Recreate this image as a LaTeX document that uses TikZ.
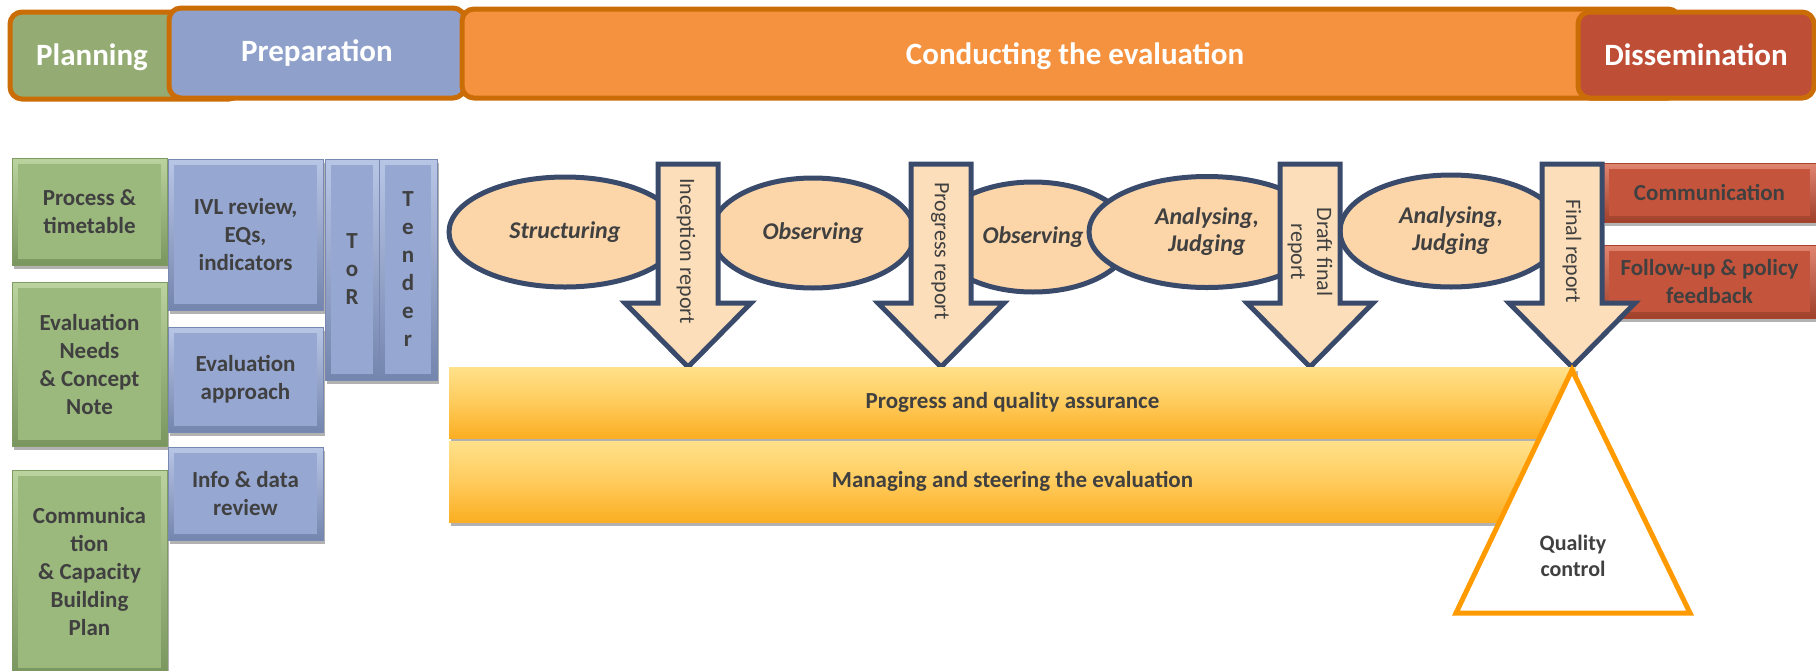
\documentclass[tikz,border=0pt]{standalone}
\usepackage{fontspec}
\setmainfont{Carlito}
\usetikzlibrary{shapes.geometric,shadows}
\definecolor{topgreen}{HTML}{94AC73}
\definecolor{topblue}{HTML}{8FA1CB}
\definecolor{toporange}{HTML}{F59240}
\definecolor{topred}{HTML}{BF4E36}
\definecolor{topborder}{HTML}{CB6D07}
\definecolor{boxgreen}{HTML}{9BB87D}
\definecolor{gtop}{HTML}{BBD39E}
\definecolor{gbot}{HTML}{7A965F}
\definecolor{boxgreenedge}{HTML}{7F9A63}
\definecolor{boxblue}{HTML}{96A7D2}
\definecolor{btop}{HTML}{B8C6E6}
\definecolor{bbot}{HTML}{7485AE}
\definecolor{boxblueedge}{HTML}{7888B0}
\definecolor{boxred}{HTML}{C5543C}
\definecolor{rtop}{HTML}{E08570}
\definecolor{rbot}{HTML}{A0402B}
\definecolor{boxrededge}{HTML}{A8432E}
\definecolor{ellfill}{HTML}{FCD5A9}
\definecolor{arrfill}{HTML}{FCDFBA}
\definecolor{navy}{HTML}{3A4A6B}
\definecolor{txt}{HTML}{404040}
\definecolor{barlight}{HTML}{FFE18A}
\definecolor{barmid}{HTML}{FFCB5C}
\definecolor{bardark}{HTML}{FBAE22}
\definecolor{qcorange}{HTML}{FF9A00}
\begin{document}
\begin{tikzpicture}[x=1pt,y=-1pt,
  phase/.style={draw=topborder, line width=5pt, rounded corners=12pt, inner sep=0pt,
    text=white, font=\fontsize{31}{36}\selectfont\bfseries},
  phasetxt/.style={inner sep=0pt, text=white, font=\fontsize{31}{36}\selectfont\bfseries},
  sidebox/.style={inner sep=0pt, align=center, text=txt, line width=1pt,
    font=\fontsize{23}{28}\selectfont\bfseries,
    drop shadow={shadow xshift=2pt, shadow yshift=-4pt, opacity=0.3, fill=black}},
  greenbox/.style={sidebox, top color=gtop, bottom color=gbot, draw=boxgreenedge,
    path picture={\fill[boxgreen] ([shift={(6pt,-6pt)}]path picture bounding box.north west)
      rectangle ([shift={(-6pt,6pt)}]path picture bounding box.south east);}},
  bluebox/.style={sidebox, top color=btop, bottom color=bbot, draw=boxblueedge,
    path picture={\fill[boxblue] ([shift={(6pt,-6pt)}]path picture bounding box.north west)
      rectangle ([shift={(-6pt,6pt)}]path picture bounding box.south east);}},
  redbox/.style={sidebox, top color=rtop, bottom color=rbot, draw=boxrededge,
    path picture={\fill[boxred] ([shift={(6pt,-6pt)}]path picture bounding box.north west)
      rectangle ([shift={(-6pt,6pt)}]path picture bounding box.south east);}},
  ell/.style={ellipse, draw=navy, line width=5pt, fill=ellfill, inner sep=0pt, align=center,
    text=txt, font=\fontsize{24}{27}\selectfont\bfseries\itshape},
  arr/.style={draw=navy, line width=5pt, fill=arrfill, line join=miter},
  arrtxt/.style={rotate=-90, inner sep=0pt, align=center, text=txt,
    font=\fontsize{22}{26}\selectfont},
  bar/.style={inner sep=0pt, top color=barlight, bottom color=bardark, middle color=barmid,
    text=txt, font=\fontsize{23}{28}\selectfont\bfseries,
    drop shadow={shadow xshift=2pt, shadow yshift=-4pt, opacity=0.3, fill=black}},
  qctxt/.style={inner sep=0pt, align=center, text=txt, font=\fontsize{22}{26}\selectfont\bfseries}
]
\useasboundingbox (0,0) rectangle (1816,670);

% phase bar
\node[phase, fill=topgreen, minimum width=231pt, minimum height=87pt] (planbox) at (125.5,55.5) {};
\node[phasetxt] (plantxt) at (92,57) {Planning};
\node[phase, fill=topblue, minimum width=296pt, minimum height=90pt] (prepbox) at (317,53) {Preparation};
\node[phase, fill=toporange, minimum width=1218pt, minimum height=89pt] (condbox) at (1071,53.5) {};
\node[phasetxt] (condtxt) at (1075,56) {Conducting the evaluation};
\node[phase, fill=topred, minimum width=236pt, minimum height=86pt] (dissbox) at (1696,55) {Dissemination};

% planning boxes
\node[greenbox, minimum width=155pt, minimum height=107pt] (g1) at (89.5,211.5) {Process \&\\timetable};
\node[greenbox, minimum width=155pt, minimum height=164pt] (g2) at (89.5,364) {Evaluation\\Needs\\\& Concept\\Note};
\node[greenbox, minimum width=155pt, minimum height=204pt] (g3) at (89.5,572) {Communica\\tion\\\& Capacity\\Building\\Plan};

% preparation boxes
\node[bluebox, minimum width=155pt, minimum height=151pt] (b1) at (245.5,234.5) {IVL review,\\EQs,\\indicators};
\node[bluebox, minimum width=155pt, minimum height=105pt] (b2) at (245.5,379.5) {Evaluation\\approach};
\node[bluebox, minimum width=155pt, minimum height=93pt] (b3) at (245.5,493.5) {Info \& data\\review};
\node[bluebox, minimum width=54pt, minimum height=221pt] (tor) at (352,269.5) {T\\o\\R};
\node[bluebox, minimum width=58pt, minimum height=221pt] (tender) at (408,269.5) {T\\e\\n\\d\\e\\r};

% dissemination boxes
\node[redbox, minimum width=213pt, minimum height=59pt] (comm) at (1709.5,192.5) {Communication};
\node[redbox, minimum width=213pt, minimum height=73pt] (follow) at (1709.5,281.5) {Follow-up \& policy\\feedback};

% ellipses
\node[ell, minimum width=232pt, minimum height=110pt] (e1) at (565,232) {Structuring};
\node[ell, minimum width=204pt, minimum height=110pt] (e2) at (813,233) {Observing};
\node[ell, minimum width=196pt, minimum height=110pt] (e3) at (1033,237) {Observing};
\node[ell, minimum width=236pt, minimum height=111pt] (e4) at (1207,232) {Analysing,\\Judging};
\node[ell, minimum width=222pt, minimum height=112pt] (e5) at (1451,231) {Analysing,\\Judging};

% report arrows
\foreach \c in {688,941,1310,1572} {
  \draw[arr] ({\c-30},164) -- ({\c+30},164) -- ({\c+30},303) -- ({\c+63},303) -- (\c,367)
    -- ({\c-63},303) -- ({\c-30},303) -- cycle;
}
\node[arrtxt] (r1) at (686,251) {Inception report};
\node[arrtxt] (r2) at (940,251) {Progress report};
\node[arrtxt] (r3) at (1310,252) {Draft final\\report};
\node[arrtxt] (r4) at (1572,251) {Final report};

% bars
\node[bar, minimum width=1127pt, minimum height=71pt] (pqa) at (1012.5,402.5) {Progress and quality assurance};
\node[bar, minimum width=1127pt, minimum height=81pt] (mse) at (1012.5,481.5) {Managing and steering the evaluation};

% quality control triangle
\draw[draw=qcorange, line width=5pt, fill=white, line join=miter] (1572,370) -- (1690,613) -- (1456,613) -- cycle;
\node[qctxt] (qc) at (1573,556) {Quality\\control};
\end{tikzpicture}
\end{document}
